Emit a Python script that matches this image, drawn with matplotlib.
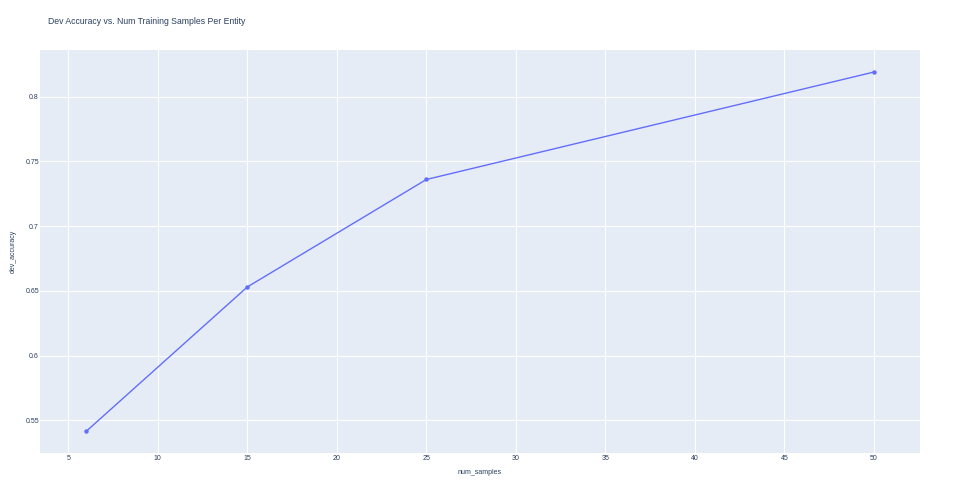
import matplotlib
matplotlib.use("Agg")
import matplotlib.pyplot as plt

num_samples = [6, 15, 25, 50]
dev_accuracy = [0.5415, 0.653, 0.736, 0.819]
x_ticks = [5, 10, 15, 20, 25, 30, 35, 40, 45, 50]
y_ticks = [0.55, 0.6, 0.65, 0.7, 0.75, 0.8]
y_tick_labels = ["0.55", "0.6", "0.65", "0.7", "0.75", "0.8"]

plt.rcParams['font.family'] = ['Liberation Sans', 'DejaVu Sans']
fig = plt.figure(figsize=(9.6, 4.94), dpi=100)
W, H = 960, 494
ax = fig.add_axes([40 / W, 1 - 452.7 / H, 880 / W, 402.7 / H])
ax.set_facecolor('#E5ECF6')
for s in ax.spines.values():
    s.set_visible(False)
ax.grid(True, color='white', linewidth=0.8)
ax.set_axisbelow(True)
ax.plot(num_samples, dev_accuracy, color='#636EFA', linewidth=1.0,
        marker='o', markersize=2.2)
ax.set_xlim(3.42, 52.57)
ax.set_ylim(0.525, 0.836)
ax.set_xticks(x_ticks)
ax.set_yticks(y_ticks)
ax.set_yticklabels(y_tick_labels)
ax.tick_params(length=0, labelsize=5.0, colors='#2a3f5f')
ax.tick_params(axis='y', pad=0.8)
ax.tick_params(axis='x', pad=2)
ax.set_xlabel('num_samples', fontsize=5.0, color='#2a3f5f')
ax.xaxis.set_label_coords((480 - 40) / 880, -(472 - 452.7) / 402.7)
ax.xaxis.label.set_va('center')
ax.set_ylabel('dev_accuracy', fontsize=5.0, color='#2a3f5f')
ax.yaxis.set_label_coords(-(40 - 13) / 880, (452.7 - 251) / 402.7)
ax.yaxis.label.set_va('center')
fig.text(48 / W, 1 - 22 / H, 'Dev Accuracy vs. Num Training Samples Per Entity',
         fontsize=6.2, color='#2a3f5f', va='center', ha='left')
fig.savefig('out.png', dpi=100)
